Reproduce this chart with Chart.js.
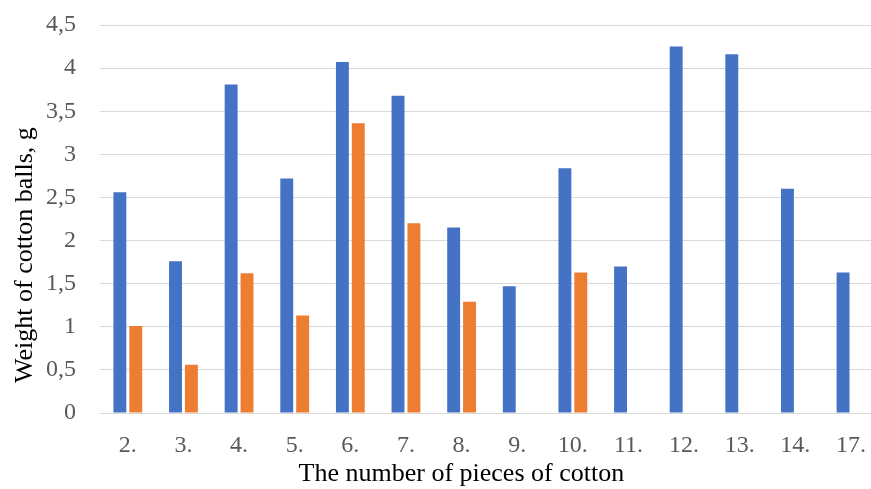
<!DOCTYPE html>
<html>
<head>
<meta charset="utf-8">
<script src="https://cdn.jsdelivr.net/npm/chart.js@4"></script>
<style>
  html, body { margin: 0; padding: 0; background: #fff; overflow: hidden; }
  #wrap { width: 884px; height: 489px; position: relative; }
</style>
</head>
<body>
<div id="wrap"><canvas id="c" width="884" height="489"></canvas></div>
<script>
const categories = ['2.', '3.', '4.', '5.', '6.', '7.', '8.', '9.', '10.', '11.', '12.', '13.', '14.', '17.'];
const seriesBlue = [2.56, 1.76, 3.81, 2.72, 4.07, 3.68, 2.15, 1.47, 2.84, 1.70, 4.25, 4.16, 2.60, 1.63];
const seriesOrange = [1.01, 0.56, 1.62, 1.13, 3.36, 2.20, 1.29, null, 1.63, null, null, null, null, null];
const yTickLabels = ['0', '0,5', '1', '1,5', '2', '2,5', '3', '3,5', '4', '4,5'];
const xTitle = 'The number of pieces of cotton';
const yTitle = 'Weight of cotton balls, g';

const FONT = '"Liberation Serif", "Times New Roman", serif';

const axisTitlesPlugin = {
  id: 'axisTitlesPlugin',
  afterDraw(chart) {
    const ctx = chart.ctx;
    const a = chart.chartArea;
    ctx.save();
    ctx.font = '26px ' + FONT;
    ctx.fillStyle = '#000000';
    ctx.textAlign = 'center';
    ctx.textBaseline = 'alphabetic';
    ctx.fillText(xTitle, a.left + a.width * 0.464, chart.height - 8);
    ctx.translate(25, a.top + a.height * 0.593);
    ctx.rotate(-Math.PI / 2);
    ctx.textBaseline = 'middle';
    ctx.fillText(yTitle, 0, 0);
    ctx.restore();
  }
};

new Chart(document.getElementById('c'), {
  type: 'bar',
  data: {
    labels: categories,
    datasets: [
      { label: 'Series 1', data: seriesBlue, backgroundColor: '#4472C4', borderWidth: 0 },
      { label: 'Series 2', data: seriesOrange, backgroundColor: '#ED7D31', borderWidth: 0 }
    ]
  },
  options: {
    responsive: false,
    animation: false,
    devicePixelRatio: 1,
    layout: { padding: { top: 25, right: 0, left: 0, bottom: 0 } },
    datasets: { bar: { categoryPercentage: 0.571, barPercentage: 0.8125 } },
    plugins: { legend: { display: false }, tooltip: { enabled: false } },
    scales: {
      x: {
        grid: { display: false, drawTicks: false },
        border: { display: true, color: '#D9D9D9', width: 1 },
        ticks: { color: '#595959', font: { family: FONT, size: 24 }, padding: 18, maxRotation: 0, autoSkip: false },
        afterFit(scale) { scale.height = 76; }
      },
      y: {
        min: 0, max: 4.5,
        grid: { color: '#D9D9D9', lineWidth: 1, drawTicks: false },
        border: { display: false },
        ticks: {
          stepSize: 0.5,
          color: '#595959',
          font: { family: FONT, size: 24 },
          padding: 24,
          callback: (v, i) => yTickLabels[i]
        },
        title: { display: false },
        afterFit(scale) { scale.width = 100; scale.paddingTop = 0; scale.paddingBottom = 0; }
      }
    }
  },
  plugins: [axisTitlesPlugin]
});
</script>
</body>
</html>
